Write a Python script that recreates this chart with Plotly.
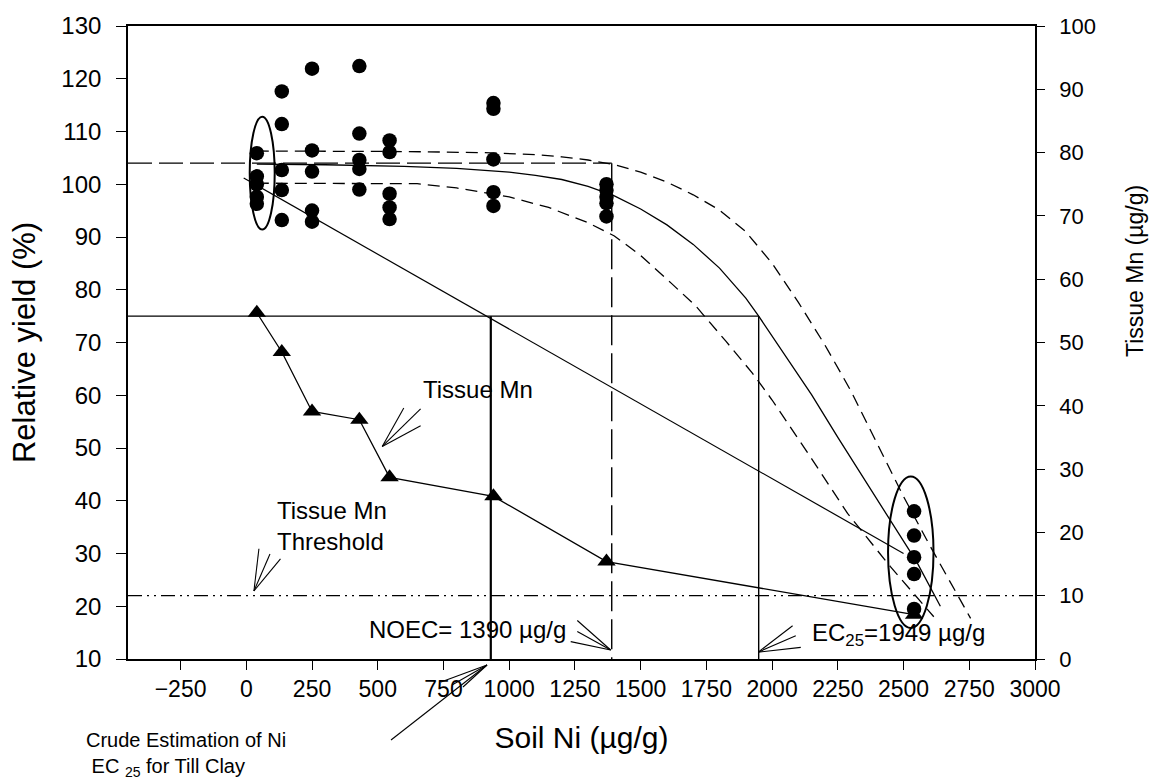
import plotly.graph_objects as go

# ---- measured data ----
# Soil Ni levels (µg/g)
soil_ni = [40, 135, 250, 430, 545, 940, 1370, 2540]

# Relative yield (%) of replicate pots at each Ni level
yield_reps = [
    [105.9, 101.5, 100.0, 97.6, 96.3],
    [117.6, 111.4, 102.7, 98.9, 93.2],
    [121.9, 106.4, 102.4, 95.0, 92.9],
    [122.4, 109.6, 104.6, 102.9, 99.0],
    [108.3, 106.1, 98.2, 95.6, 93.4],
    [115.4, 114.3, 104.7, 98.5, 95.9],
    [100.0, 98.9, 97.6, 96.4, 93.9],
    [38.0, 33.4, 29.3, 26.1, 19.5],
]

# Tissue Mn (µg/g), right axis
tissue_mn = [54.7, 48.5, 39.1, 37.8, 28.7, 25.7, 15.4, 7.0]
mn_threshold = 10

# Fitted dose-response curve
fit_x = [40, 300, 600, 800, 1000, 1100, 1200, 1300, 1400, 1500, 1600, 1700, 1800, 1900, 1949,
         2050, 2150, 2250, 2350, 2450, 2550, 2640]
fit_y = [103.8, 103.7, 103.4, 103.0, 102.3, 101.7, 100.9, 99.6, 97.8, 95.3, 92.3, 88.6, 84.1, 78.4, 75.0,
         67.6, 60.1, 52.0, 44.1, 36.4, 28.4, 20.0]

# Upper and lower confidence limits of the fit
upper_x = [40, 600, 900, 1100, 1200, 1300, 1400, 1500, 1600, 1700, 1800, 1900, 2000, 2100, 2200,
           2300, 2400, 2500, 2600, 2700, 2755]
upper_y = [106.3, 106.2, 106.0, 105.6, 105.2, 104.6, 103.7, 102.3, 100.4, 98.0, 95.1, 91.0, 85.0, 77.6, 69.6,
           60.8, 50.8, 40.8, 31.5, 22.6, 17.7]
lower_x = [40, 650, 800, 1000, 1150, 1300, 1400, 1500, 1615, 1710, 1825, 1925, 2000, 2050, 2150, 2287, 2450, 2615]
lower_y = [100.2, 100.1, 99.3, 97.6, 95.6, 92.7, 90.2, 86.5, 81.3, 76.9, 70.2, 64.2, 59.1, 55.4, 48.0, 37.6, 27.5, 18.0]

# Straight-line (crude) estimate between control and highest dose
crude_x = [-10, 2500]
crude_y = [101.2, 30.0]

# Toxicity endpoints
noec = 1390
noec_yield = 104
ec25 = 1949
ec25_yield = 75
crude_ec25 = 930

FONT = "Liberation Sans, Arial, sans-serif"
BLACK = "black"

fig = go.Figure()

band_line = dict(color=BLACK, width=1.3, dash="12px,7px")

# Fitted curve and confidence band
fig.add_trace(go.Scatter(x=upper_x, y=upper_y, mode="lines", line=band_line,
                         hoverinfo="skip", showlegend=False))
fig.add_trace(go.Scatter(x=lower_x, y=lower_y, mode="lines", line=band_line,
                         hoverinfo="skip", showlegend=False))
fig.add_trace(go.Scatter(x=fit_x, y=fit_y, mode="lines",
                         line=dict(color=BLACK, width=1.3),
                         hoverinfo="skip", showlegend=False))

# Crude straight-line estimate
fig.add_trace(go.Scatter(x=crude_x, y=crude_y, mode="lines",
                         line=dict(color=BLACK, width=1.2), hoverinfo="skip", showlegend=False))

# NOEC reference lines
fig.add_trace(go.Scatter(x=[-450, noec], y=[noec_yield, noec_yield], mode="lines",
                         line=dict(color=BLACK, width=1.2, dash="24px,7px"), showlegend=False))
fig.add_trace(go.Scatter(x=[noec, noec], y=[noec_yield, 10], mode="lines",
                         line=dict(color=BLACK, width=1.4, dash="30px,8px"), showlegend=False))

# EC25 reference lines
fig.add_trace(go.Scatter(x=[-450, ec25], y=[ec25_yield, ec25_yield], mode="lines",
                         line=dict(color=BLACK, width=1.2), showlegend=False))
fig.add_trace(go.Scatter(x=[ec25, ec25], y=[ec25_yield, 10], mode="lines",
                         line=dict(color=BLACK, width=1.4), showlegend=False))
fig.add_trace(go.Scatter(x=[crude_ec25, crude_ec25], y=[ec25_yield, 10], mode="lines",
                         line=dict(color=BLACK, width=2.2), showlegend=False))

# Relative yield replicates
pts_x, pts_y = [], []
for x, reps in zip(soil_ni, yield_reps):
    pts_x += [x] * len(reps)
    pts_y += reps
fig.add_trace(go.Scatter(x=pts_x, y=pts_y, mode="markers",
                         marker=dict(symbol="circle", size=14.5, color=BLACK),
                         name="Relative yield", showlegend=False))

# Tissue Mn on the secondary axis
fig.add_trace(go.Scatter(x=soil_ni, y=tissue_mn, mode="lines+markers", yaxis="y2",
                         line=dict(color=BLACK, width=1.3),
                         marker=dict(symbol="triangle-up", size=16, color=BLACK),
                         name="Tissue Mn", showlegend=False))
fig.add_trace(go.Scatter(x=[-450, 3000], y=[mn_threshold, mn_threshold], mode="lines", yaxis="y2",
                         line=dict(color=BLACK, width=1.2, dash="14px,5px,2px,5px,2px,5px"),
                         showlegend=False))

# Ellipses around control and highest dose groups
shapes = [
    dict(type="circle", xref="x", yref="y", x0=13, x1=108, y0=91.4, y1=112.8,
         line=dict(color=BLACK, width=2)),
    dict(type="circle", xref="x", yref="y", x0=2441, x1=2614, y0=15.9, y1=44.6,
         line=dict(color=BLACK, width=2)),
]

# Open arrow heads (three converging strokes) for the callouts
def fan(tip, tails, xref="x", yref="y"):
    return [dict(type="line", xref=xref, yref=yref, x0=t[0], y0=t[1], x1=tip[0], y1=tip[1],
                 line=dict(color=BLACK, width=1.1)) for t in tails]

shapes += fan((517, 50.3), [(599, 57.6), (663, 57.4), (663, 54.2)])
shapes += fan((29, 22.9), [(48, 30.9), (90, 29.9), (130, 29.0)])
shapes += fan((1386, 11.7), [(1259, 17.3), (1259, 15.2), (1234, 13.3)])
shapes += fan((1947, 11.3), [(2078, 16.3), (2090, 14.4), (2109, 12.2)])

# Callout below the axis, in paper coordinates
def px_to_paper(px, py):
    return ((px - 128) / 907.0, (659 - py) / 633.0)

tip = px_to_paper(487, 665)
shapes += fan(tip, [px_to_paper(441, 682), px_to_paper(452, 685), px_to_paper(463, 687),
                    px_to_paper(391, 740)], xref="paper", yref="paper")

annotations = [
    dict(x=663, y=61.0, xref="x", yref="y", text="Tissue Mn", showarrow=False,
         xanchor="left", yanchor="middle", font=dict(size=24)),
    dict(x=111, y=35.2, xref="x", yref="y", text="Tissue Mn<br>Threshold", showarrow=False,
         xanchor="left", yanchor="middle", align="left", font=dict(size=24)),
    dict(x=460, y=15.5, xref="x", yref="y", text="NOEC= 1390 µg/g", showarrow=False,
         xanchor="left", yanchor="middle", font=dict(size=24)),
    dict(x=2145, y=14.6, xref="x", yref="y", text="EC<sub>25</sub>=1949 µg/g", showarrow=False,
         xanchor="left", yanchor="middle", font=dict(size=24)),
    dict(x=px_to_paper(84, 0)[0], y=px_to_paper(0, 754)[1], xref="paper", yref="paper",
         text="Crude Estimation of Ni<br> EC <sub>25</sub> for Till Clay", showarrow=False,
         xanchor="left", yanchor="middle", align="left", font=dict(size=20)),
    # Right-hand axis title
    dict(x=px_to_paper(1135, 0)[0], y=px_to_paper(0, 271)[1], xref="paper", yref="paper",
         text="Tissue Mn (µg/g)", showarrow=False, textangle=-90,
         xanchor="center", yanchor="middle", font=dict(size=23)),
]

fig.update_layout(
    width=1151, height=782,
    margin=dict(l=128, r=116, t=26, b=123),
    paper_bgcolor="white", plot_bgcolor="white",
    font=dict(family=FONT, color=BLACK),
    showlegend=False,
    shapes=shapes,
    annotations=annotations,
    xaxis=dict(range=[-450, 3000], tickmode="array",
               tickvals=list(range(-250, 3001, 250)),
               ticks="outside", ticklen=9, tickwidth=1.3, tickcolor=BLACK,
               showline=True, linecolor=BLACK, linewidth=1.6, mirror=True,
               showgrid=False, zeroline=False,
               tickfont=dict(size=23),
               title=dict(text="Soil Ni (µg/g)", font=dict(size=30), standoff=26)),
    yaxis=dict(range=[10, 130], dtick=10, tick0=10,
               ticks="outside", ticklen=10, tickwidth=1.3, tickcolor=BLACK,
               showline=True, linecolor=BLACK, linewidth=1.6,
               showgrid=False, zeroline=False,
               tickfont=dict(size=24), ticklabelstandoff=10,
               title=dict(text="Relative yield (%)", font=dict(size=31), standoff=17)),
    yaxis2=dict(range=[0, 100], dtick=10, tick0=0, overlaying="y", side="right",
                ticks="outside", ticklen=8, tickwidth=1.3, tickcolor=BLACK,
                showline=True, linecolor=BLACK, linewidth=1.6,
                showgrid=False, zeroline=False,
                tickfont=dict(size=22), ticklabelstandoff=10),
)

fig.write_html("out.html")
